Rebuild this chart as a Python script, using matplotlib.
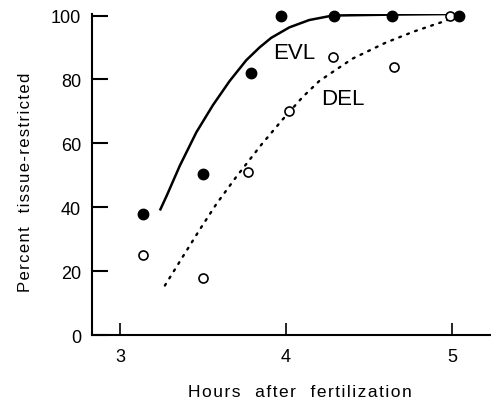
import matplotlib
matplotlib.use("Agg")
import matplotlib.pyplot as plt

plt.rcParams['font.family'] = ['Liberation Sans', 'DejaVu Sans']

# Measured points
evl_hours = [3.14, 3.50, 3.79, 3.97, 4.29, 4.64, 5.04]
evl_pct = [38, 50.5, 82, 100, 100, 100, 100]
del_hours = [3.14, 3.50, 3.77, 4.02, 4.28, 4.65, 4.99]
del_pct = [25, 18, 51, 70, 87, 84, 100]

# Fitted curves
evl_fit_hours = [3.24, 3.28, 3.36, 3.46, 3.56, 3.66, 3.76, 3.84, 3.91, 4.02, 4.14, 4.28, 4.64, 5.06]
evl_fit_pct = [39, 43.5, 53, 63.5, 72, 79.5, 86, 90, 93, 96.3, 98.6, 100, 100.3, 100.5]
del_fit_hours = [3.27, 3.38, 3.48, 3.58, 3.70, 3.85, 3.98, 4.10, 4.20, 4.40, 4.60, 4.77, 4.93, 5.02]
del_fit_pct = [15.5, 24.7, 33, 41, 49.5, 59.5, 67.5, 74.5, 79.5, 86.5, 91.5, 95, 97.8, 99.5]


def spaced(txt):
    # old-style letter spacing: hair space between letters
    return '   '.join('\u200a'.join(w) for w in txt.split())


fig = plt.figure(figsize=(4.91, 4.02), dpi=100)
ax = fig.add_axes([0.1874, 0.164, 0.8126, 0.798])

ax.plot(evl_fit_hours, evl_fit_pct, color='black', lw=1.8, solid_capstyle='butt')
ax.plot(del_fit_hours, del_fit_pct, color='black', lw=1.7,
        linestyle=(0, (0.8, 2.8)), dash_capstyle='round')

ax.plot(evl_hours, evl_pct, 'o', color='black', markersize=7.5, clip_on=False, zorder=4)
ax.plot(del_hours, del_pct, 'o', markerfacecolor='white', markeredgecolor='black',
        markeredgewidth=1.2, markersize=6.5, clip_on=False, zorder=3)

ax.text(4.05, 88.5, 'EVL', fontsize=16, ha='center', va='center')
ax.text(4.34, 74, 'DEL', fontsize=16, ha='center', va='center')

ax.set_xlim(2.831, 5.235)
ax.set_ylim(0, 100.4)

for s in ['top', 'right']:
    ax.spines[s].set_visible(False)
for s in ['left', 'bottom']:
    ax.spines[s].set_linewidth(1.5)

ax.set_xticks([3, 4, 5])
ax.set_yticks([0, 20, 40, 60, 80, 100])
ax.tick_params(axis='y', direction='in', length=11.5, width=1.5, pad=8, labelsize=13)
ax.tick_params(axis='x', direction='in', length=8.5, width=1.2, pad=9, labelsize=13)

ax.set_xlabel(spaced('Hours after fertilization'), fontsize=12.5)
ax.set_ylabel(spaced('Percent tissue-restricted'), fontsize=12)
ax.xaxis.set_label_coords(0.52, -0.152)
ax.yaxis.set_label_coords(-0.148, 0.48)

fig.savefig('out.png', dpi=100)
